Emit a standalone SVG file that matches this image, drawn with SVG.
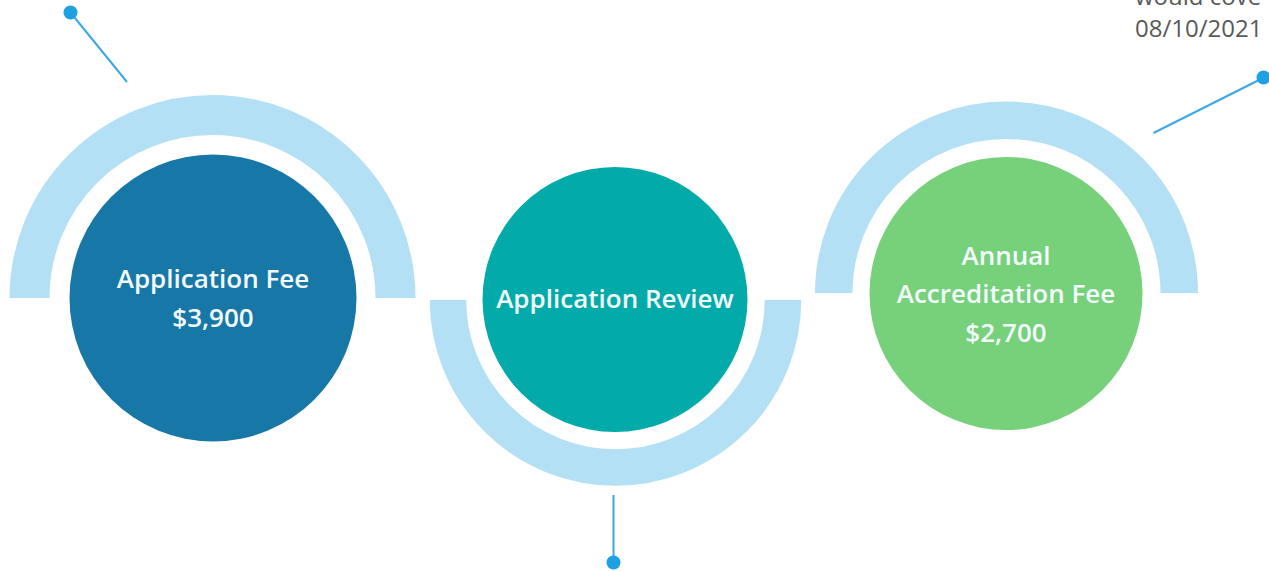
<svg xmlns="http://www.w3.org/2000/svg" width="1269" height="571" viewBox="0 0 1269 571">
<style>
.arc{fill:none;stroke:#b3e0f5;}
.lbl{font-family:"Open Sans","Liberation Sans",sans-serif;font-size:26px;font-weight:600;fill:#f4fbfd;text-anchor:middle;}
.note{font-family:"Open Sans","Liberation Sans",sans-serif;font-size:24px;fill:#595959;}
.lead{stroke:#3aa9e6;stroke-width:2;fill:none;}
.dot{fill:#1ea1e2;}
</style>
<rect width="1269" height="571" fill="#ffffff"/>
<g id="node-application-fee">
<path class="arc" stroke-width="40" d="M 29.5 298 A 183 183 0 0 1 395.5 298"/>
<circle cx="213" cy="298" r="143.5" fill="#1777a7"/>
<text class="lbl" x="213" y="288">Application Fee</text>
<text class="lbl" x="213" y="327">$3,900</text>
</g>
<g id="node-application-review">
<path class="arc" stroke-width="36.5" d="M 448 300 A 167.5 167.5 0 0 0 783 300"/>
<circle cx="615" cy="299.5" r="132.5" fill="#02aaaa"/>
<text class="lbl" x="615" y="308">Application Review</text>
</g>
<g id="node-annual-fee">
<path class="arc" stroke-width="37.5" d="M 833.75 293 A 172.75 172.75 0 0 1 1179.25 293"/>
<circle cx="1006" cy="293.5" r="136.5" fill="#76d17a"/>
<text class="lbl" x="1006" y="265">Annual</text>
<text class="lbl" x="1006" y="303">Accreditation Fee</text>
<text class="lbl" x="1006" y="342">$2,700</text>
</g>
<g id="note-top-right">
<text class="note" x="1135" y="5">would cove</text>
<text class="note" x="1135" y="37">08/10/2021</text>
</g>
<g id="connectors">
<line class="lead" x1="70.5" y1="12.5" x2="127" y2="82"/>
<circle class="dot" cx="70.5" cy="12.5" r="7"/>
<line class="lead" x1="613.5" y1="495" x2="613.5" y2="562"/>
<circle class="dot" cx="613.5" cy="562.5" r="7"/>
<line class="lead" x1="1263" y1="78" x2="1153.5" y2="133"/>
<circle class="dot" cx="1263.5" cy="77.5" r="7"/>
</g>
</svg>
